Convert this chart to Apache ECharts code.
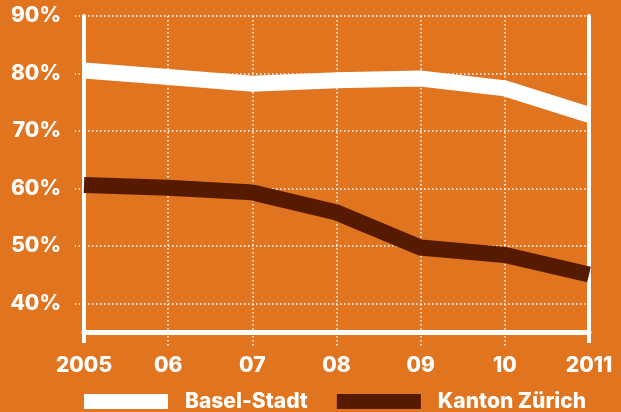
<!DOCTYPE html>
<html>
<head>
<meta charset="utf-8">
<script src="https://cdn.jsdelivr.net/npm/echarts@6/dist/echarts.min.js"></script>
<style>
html,body{margin:0;padding:0;background:#E0741F;}
#c{width:621px;height:412px;}
</style>
</head>
<body>
<div id="c"></div>
<script>
const years = ['2005', '06', '07', '08', '09', '10', '2011'];
const baselStadt = [80.5, 79.4, 78.2, 78.8, 79.1, 77.4, 72.8];
const kantonZuerich = [60.6, 60.1, 59.3, 55.8, 49.7, 48.4, 45.0];
const yTickValues = [40, 50, 60, 70, 80, 90];
const seriesNames = ['Basel-Stadt', 'Kanton Zürich'];

const BG = '#E0741F';
const BROWN = '#561A00';
const WHITE = '#FFFFFF';
const FONT = 'Inter';
const WEIGHT = 800;
const dotted = { color: WHITE, width: 1.5, type: [1.5, 2.5] };

const chart = echarts.init(document.getElementById('c'), null, { renderer: 'canvas' });
chart.setOption({
  backgroundColor: BG,
  animation: false,
  grid: { left: 84, right: 32, top: 16, bottom: 80, containLabel: false },
  legend: {
    data: seriesNames,
    left: 84, top: 391, padding: 0,
    icon: 'rect', itemWidth: 84, itemHeight: 15, itemGap: 29,
    textStyle: { color: WHITE, fontFamily: FONT, fontWeight: WEIGHT, fontSize: 21, padding: [0, 0, 0, 12] }
  },
  xAxis: [{
    type: 'category', data: years, boundaryGap: false, position: 'bottom',
    axisLine: { show: true, onZero: false, lineStyle: { color: WHITE, width: 5 } },
    axisTick: { show: true, length: 11, interval: (i) => i === 0 || i === years.length - 1, lineStyle: { color: WHITE, width: 4 } },
    axisLabel: { show: true, margin: 23, color: WHITE, fontFamily: FONT, fontWeight: WEIGHT, fontSize: 21, interval: 0 },
    splitLine: { show: true, interval: (i) => i > 0 && i < years.length - 1, lineStyle: dotted }
  }, {
    type: 'category', data: years, boundaryGap: false, position: 'bottom',
    axisLine: { show: false, onZero: false },
    axisTick: { show: true, length: 15, interval: (i) => i > 0 && i < years.length - 1, lineStyle: dotted },
    axisLabel: { show: false },
    splitLine: { show: false }
  }],
  yAxis: [{
    type: 'value', min: 35, max: 90, position: 'left',
    axisLine: { show: true, lineStyle: { color: WHITE, width: 4 } },
    axisTick: { show: true, length: 9, customValues: yTickValues, lineStyle: dotted },
    axisLabel: { show: true, margin: 23, customValues: yTickValues, formatter: '{value}%', color: WHITE, fontFamily: FONT, fontWeight: WEIGHT, fontSize: 21 },
    splitLine: { show: true, lineStyle: dotted }
  }, {
    type: 'value', min: 35, max: 90, position: 'right',
    axisLine: { show: true, lineStyle: { color: WHITE, width: 4 } },
    axisTick: { show: false }, axisLabel: { show: false }, splitLine: { show: false }
  }],
  series: [{
    name: seriesNames[0], type: 'line', data: baselStadt, xAxisIndex: 0, yAxisIndex: 0,
    showSymbol: false, symbol: 'none', clip: false, z: 5,
    itemStyle: { color: WHITE },
    lineStyle: { color: WHITE, width: 16, join: 'miter', cap: 'butt' }
  }, {
    name: seriesNames[1], type: 'line', data: kantonZuerich, xAxisIndex: 0, yAxisIndex: 0,
    showSymbol: false, symbol: 'none', clip: false, z: 5,
    itemStyle: { color: BROWN },
    lineStyle: { color: BROWN, width: 16, join: 'miter', cap: 'butt' }
  }]
});
</script>
</body>
</html>
